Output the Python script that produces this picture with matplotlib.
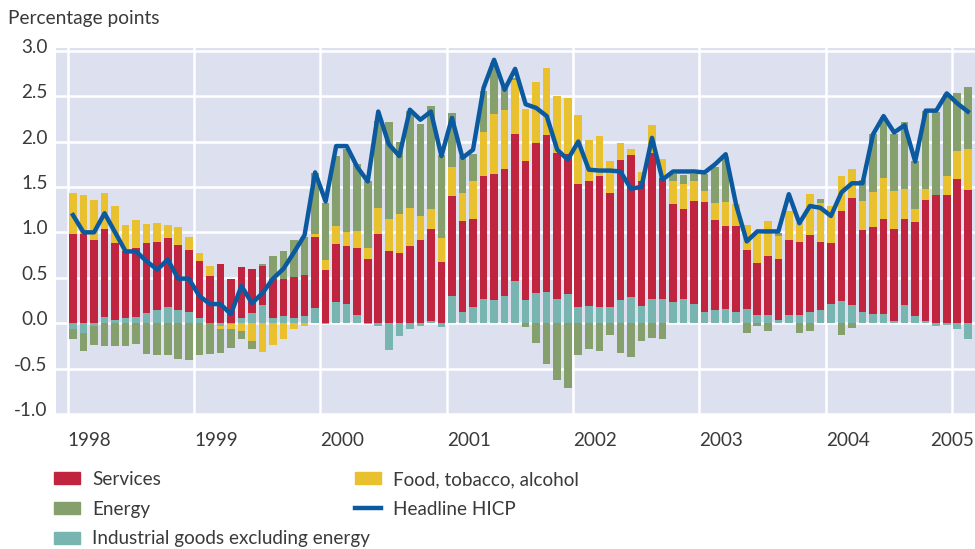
import numpy as np
import pandas as pd
import matplotlib
matplotlib.use("Agg")
import matplotlib.pyplot as plt
from matplotlib.transforms import ScaledTranslation
from matplotlib.patches import Patch
from matplotlib.lines import Line2D

plt.rcParams["font.family"] = ["Lato", "DejaVu Sans"]

# monthly contributions, Jan 1998 - Feb 2005 (percentage points)
months = pd.date_range("1998-01-01", "2005-02-01", freq="MS")

services = [
    0.98, 0.98, 0.92, 0.97, 0.84, 0.73, 0.76, 0.77, 0.74, 0.76, 0.71, 0.69,  # 1998
    0.62, 0.52, 0.65, 0.49, 0.56, 0.49, 0.43, 0.43, 0.41, 0.45, 0.45, 0.78,  # 1999
    0.58, 0.64, 0.64, 0.74, 0.71, 0.98, 0.79, 0.77, 0.85, 0.92, 1.02, 0.67,  # 2000
    1.10, 1.01, 0.97, 1.35, 1.38, 1.40, 1.62, 1.52, 1.65, 1.73, 1.60, 1.54,  # 2001
    1.35, 1.37, 1.44, 1.25, 1.55, 1.56, 1.38, 1.60, 1.33, 1.08, 0.99, 1.14,  # 2002
    1.21, 1.00, 0.91, 0.95, 0.65, 0.57, 0.65, 0.67, 0.83, 0.80, 0.85, 0.74,  # 2003
    0.67, 1.00, 1.18, 0.91, 0.96, 1.05, 1.02, 0.95, 1.03, 1.34, 1.41, 1.41,  # 2004
    1.59, 1.47,                                                              # 2005
]
food = [
    0.45, 0.43, 0.44, 0.39, 0.41, 0.29, 0.31, 0.21, 0.21, 0.14, 0.20, 0.14,
    0.09, 0.11, -0.03, -0.06, -0.09, -0.20, -0.32, -0.24, -0.18, -0.07, -0.03, 0.03,
    0.11, 0.20, 0.15, 0.18, 0.12, 0.29, 0.36, 0.43, 0.42, 0.26, 0.22, 0.27,
    0.32, 0.30, 0.41, 0.49, 0.66, 0.65, 0.60, 0.58, 0.67, 0.74, 0.63, 0.62,
    0.76, 0.46, 0.44, 0.35, 0.18, 0.07, 0.09, 0.31, 0.21, 0.25, 0.27, 0.21,
    0.12, 0.18, 0.26, 0.24, 0.27, 0.32, 0.38, 0.25, 0.32, 0.21, 0.45, 0.43,
    0.41, 0.38, 0.32, 0.32, 0.38, 0.45, 0.41, 0.33, 0.15, 0.12, 0.00, 0.21,
    0.31, 0.45,
]
energy = [
    -0.11, -0.20, -0.21, -0.25, -0.25, -0.25, -0.23, -0.34, -0.35, -0.35, -0.40, -0.41,
    -0.35, -0.34, -0.27, -0.20, -0.08, -0.08, 0.02, 0.25, 0.30, 0.41, 0.42, 0.67,
    0.63, 0.77, 0.92, 0.74, 0.73, 0.96, 1.07, 0.80, 1.07, 1.01, 1.13, 0.91,
    0.59, 0.41, 0.30, 0.45, 0.57, 0.25, 0.02, -0.04, -0.22, -0.45, -0.63, -0.71,
    -0.35, -0.29, -0.31, -0.13, -0.33, -0.37, -0.20, -0.16, -0.17, 0.08, 0.10, 0.08,
    0.19, 0.40, 0.50, 0.00, -0.11, -0.03, -0.09, 0.03, 0.00, -0.11, -0.09, 0.05,
    0.00, -0.13, -0.05, 0.23, 0.64, 0.67, 0.63, 0.73, 0.52, 0.86, 0.91, 0.90,
    0.63, 0.68,
]
industrial = [
    -0.07, -0.11, -0.03, 0.07, 0.04, 0.06, 0.07, 0.11, 0.15, 0.18, 0.15, 0.12,
    0.06, 0.00, -0.03, -0.01, 0.06, 0.11, 0.20, 0.06, 0.08, 0.06, 0.08, 0.17,
    -0.01, 0.23, 0.21, 0.09, -0.01, -0.03, -0.30, -0.14, -0.07, -0.03, 0.02, -0.04,
    0.30, 0.12, 0.18, 0.27, 0.26, 0.30, 0.46, 0.26, 0.33, 0.34, 0.27, 0.32,
    0.18, 0.19, 0.18, 0.18, 0.25, 0.29, 0.19, 0.27, 0.27, 0.23, 0.27, 0.21,
    0.12, 0.14, 0.16, 0.12, 0.16, 0.09, 0.09, 0.04, 0.09, 0.09, 0.12, 0.15,
    0.21, 0.24, 0.20, 0.12, 0.10, 0.10, 0.02, 0.20, 0.08, 0.02, -0.03, -0.02,
    -0.07, -0.18,
]
headline = [
    1.19, 1.00, 1.00, 1.21, 1.00, 0.79, 0.79, 0.68, 0.59, 0.70, 0.49, 0.49,
    0.30, 0.21, 0.21, 0.10, 0.41, 0.22, 0.33, 0.49, 0.60, 0.78, 0.97, 1.66,
    1.34, 1.95, 1.95, 1.72, 1.56, 2.33, 1.97, 1.84, 2.35, 2.24, 2.33, 1.84,
    2.26, 1.82, 1.91, 2.59, 2.90, 2.57, 2.80, 2.41, 2.37, 2.28, 1.91, 1.80,
    2.00, 1.69, 1.68, 1.68, 1.67, 1.48, 1.50, 2.04, 1.58, 1.67, 1.67, 1.67,
    1.66, 1.75, 1.86, 1.30, 0.90, 1.01, 1.01, 1.01, 1.42, 1.10, 1.29, 1.27,
    1.18, 1.44, 1.54, 1.54, 2.08, 2.28, 2.10, 2.18, 1.78, 2.34, 2.34, 2.53,
    2.42, 2.33,
]

year_ticks = list(range(1998, 2006))
y_ticks = [-1.0, -0.5, 0.0, 0.5, 1.0, 1.5, 2.0, 2.5, 3.0]

red = "#c1243f"
yellow = "#e9c12e"
green = "#859f6d"
teal = "#79b5b0"
blue = "#0b5aa0"
bg = "#dde1ef"
txt = "#3a3a3a"

x = months.year + (months.month - 0.5) / 12.0

fig = plt.figure(figsize=(9.75, 5.49), dpi=100)
ax = fig.add_axes([0.0574, 0.246, 0.9426, 0.6666])
ax.set_facecolor(bg)
for s in ax.spines.values():
    s.set_visible(False)

# stack positive and negative parts separately
parts = [(industrial, teal), (services, red), (food, yellow), (energy, green)]
pos = np.zeros(len(x))
neg = np.zeros(len(x))
for vals, col in parts:
    v = np.asarray(vals, dtype=float)
    bottom = np.where(v >= 0, pos, neg)
    ax.bar(x, v, width=0.06, bottom=bottom, color=col, linewidth=0, zorder=2)
    pos += np.clip(v, 0, None)
    neg += np.clip(v, None, 0)

ax.plot(x, headline, color=blue, lw=3.2, zorder=3)

ax.set_xlim(1997.907, 2005.182)
ax.set_ylim(-1.0, 3.03)
ax.set_xticks(year_ticks)
ax.set_xticklabels([str(y) for y in year_ticks])
ax.set_yticks(y_ticks)
ax.set_yticklabels(["%.1f" % v for v in y_ticks])
ax.grid(True, color="white", lw=1.8, zorder=1)
ax.set_axisbelow(True)
ax.tick_params(length=0, labelsize=13.6, colors=txt)
ax.tick_params(axis="x", pad=13)
ax.tick_params(axis="y", pad=6)

for lab in ax.get_xticklabels():
    lab.set_horizontalalignment("left")
ax.get_xticklabels()[-1].set_horizontalalignment("center")
for lab in ax.get_yticklabels():
    lab.set_transform(lab.get_transform() + ScaledTranslation(0, 5 / 100, fig.dpi_scale_trans))

fig.text(0.008, 0.967, "Percentage points", fontsize=13.8, color=txt, va="center")

h1 = [Patch(color=red), Patch(color=green), Patch(color=teal)]
l1 = ["Services", "Energy", "Industrial goods excluding energy"]
h2 = [Patch(color=yellow), Line2D([], [], color=blue, lw=3.2)]
l2 = ["Food, tobacco, alcohol", "Headline HICP"]
kw = dict(frameon=False, fontsize=13.6, labelcolor=txt, borderpad=0, borderaxespad=0,
          handlelength=1.4, handleheight=0.6, handletextpad=0.62, labelspacing=0.67,
          loc="upper left")
fig.legend(h1, l1, bbox_to_anchor=(54 / 975, 1 - 471 / 549), **kw)
fig.legend(h2, l2, bbox_to_anchor=(355 / 975, 1 - 471 / 549), **kw)

fig.savefig("out.png", dpi=100)
